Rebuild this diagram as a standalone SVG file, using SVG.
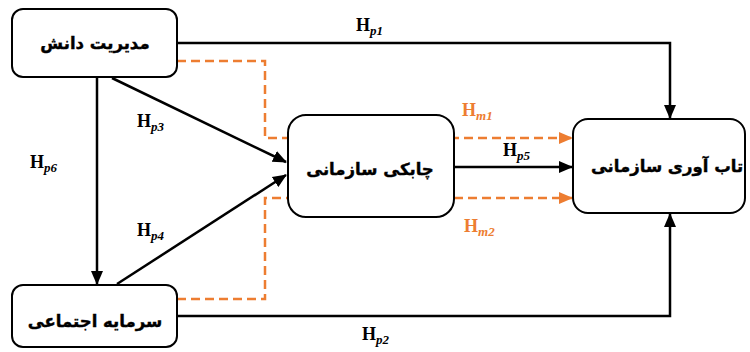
<svg xmlns="http://www.w3.org/2000/svg" width="750" height="352" viewBox="0 0 750 352">
<defs>
<style>
.box{fill:#fff;stroke:#000;stroke-width:2}
.fa{font-family:"DejaVu Sans","Noto Sans",sans-serif;font-weight:bold;font-size:16.5px;fill:#000;text-anchor:middle;dominant-baseline:middle;stroke:#000;stroke-width:0.4}
.ln{fill:none;stroke:#000;stroke-width:2.5}
.dl{fill:none;stroke:#ED7D31;stroke-width:2.5;stroke-dasharray:9,5}
.lb{font-family:"Liberation Serif","Times New Roman",serif;font-weight:bold;font-size:18px;fill:#000}
.lbo{font-family:"Liberation Serif","Times New Roman",serif;font-weight:bold;font-size:18px;fill:#ED7D31}
.sub{font-style:italic;font-size:13px}
</style>
<marker id="ab" markerUnits="userSpaceOnUse" markerWidth="14" markerHeight="14" viewBox="0 0 14 14" refX="13" refY="7" orient="auto"><path d="M0,1 L14,7 L0,13 Z" fill="#000"/></marker>
<marker id="ao" markerUnits="userSpaceOnUse" markerWidth="14" markerHeight="14" viewBox="0 0 14 14" refX="13" refY="7" orient="auto"><path d="M0,1 L14,7 L0,13 Z" fill="#ED7D31"/></marker>
</defs>
<rect width="750" height="352" fill="#fff"/>
<g id="connectors">
<path class="ln" d="M177,43 H670 V118" marker-end="url(#ab)"/>
<path class="ln" d="M177,316 H670 V214" marker-end="url(#ab)"/>
<path class="ln" d="M97,77 V284" marker-end="url(#ab)"/>
<path class="ln" d="M112,78 L286,162" marker-end="url(#ab)"/>
<path class="ln" d="M117,284 L286,175" marker-end="url(#ab)"/>
<path class="ln" d="M454,167 H572" marker-end="url(#ab)"/>
<path class="dl" d="M177,61 H265 V138 H572" marker-end="url(#ao)"/>
<path class="dl" d="M177,299 H265 V198 H572" marker-end="url(#ao)"/>
</g>
<g id="km"><rect class="box" x="12" y="9" width="165" height="68" rx="11"/><text class="fa" x="95" y="44">مدیریت دانش</text></g>
<g id="sc"><rect class="box" x="12" y="285" width="165" height="62" rx="11"/><text class="fa" x="95" y="322">سرمایه اجتماعی</text></g>
<g id="oa"><rect class="box" x="288" y="115" width="166" height="102" rx="18"/><text class="fa" x="370" y="170">چابکی سازمانی</text></g>
<g id="or"><rect class="box" x="573" y="119" width="172" height="94" rx="15"/><text class="fa" x="667" y="167">تاب آوری سازمانی</text></g>
<g id="labels">
<text class="lb" x="356" y="31">H<tspan class="sub" dy="4">p1</tspan></text>
<text class="lb" x="137" y="127">H<tspan class="sub" dy="4">p3</tspan></text>
<text class="lb" x="30" y="168">H<tspan class="sub" dy="4">p6</tspan></text>
<text class="lb" x="137" y="236">H<tspan class="sub" dy="4">p4</tspan></text>
<text class="lb" x="503" y="156">H<tspan class="sub" dy="4">p5</tspan></text>
<text class="lbo" x="462" y="116">H<tspan class="sub" dy="4">m1</tspan></text>
<text class="lbo" x="464" y="232">H<tspan class="sub" dy="4">m2</tspan></text>
<text class="lb" x="362" y="340">H<tspan class="sub" dy="4">p2</tspan></text>
</g>
</svg>
